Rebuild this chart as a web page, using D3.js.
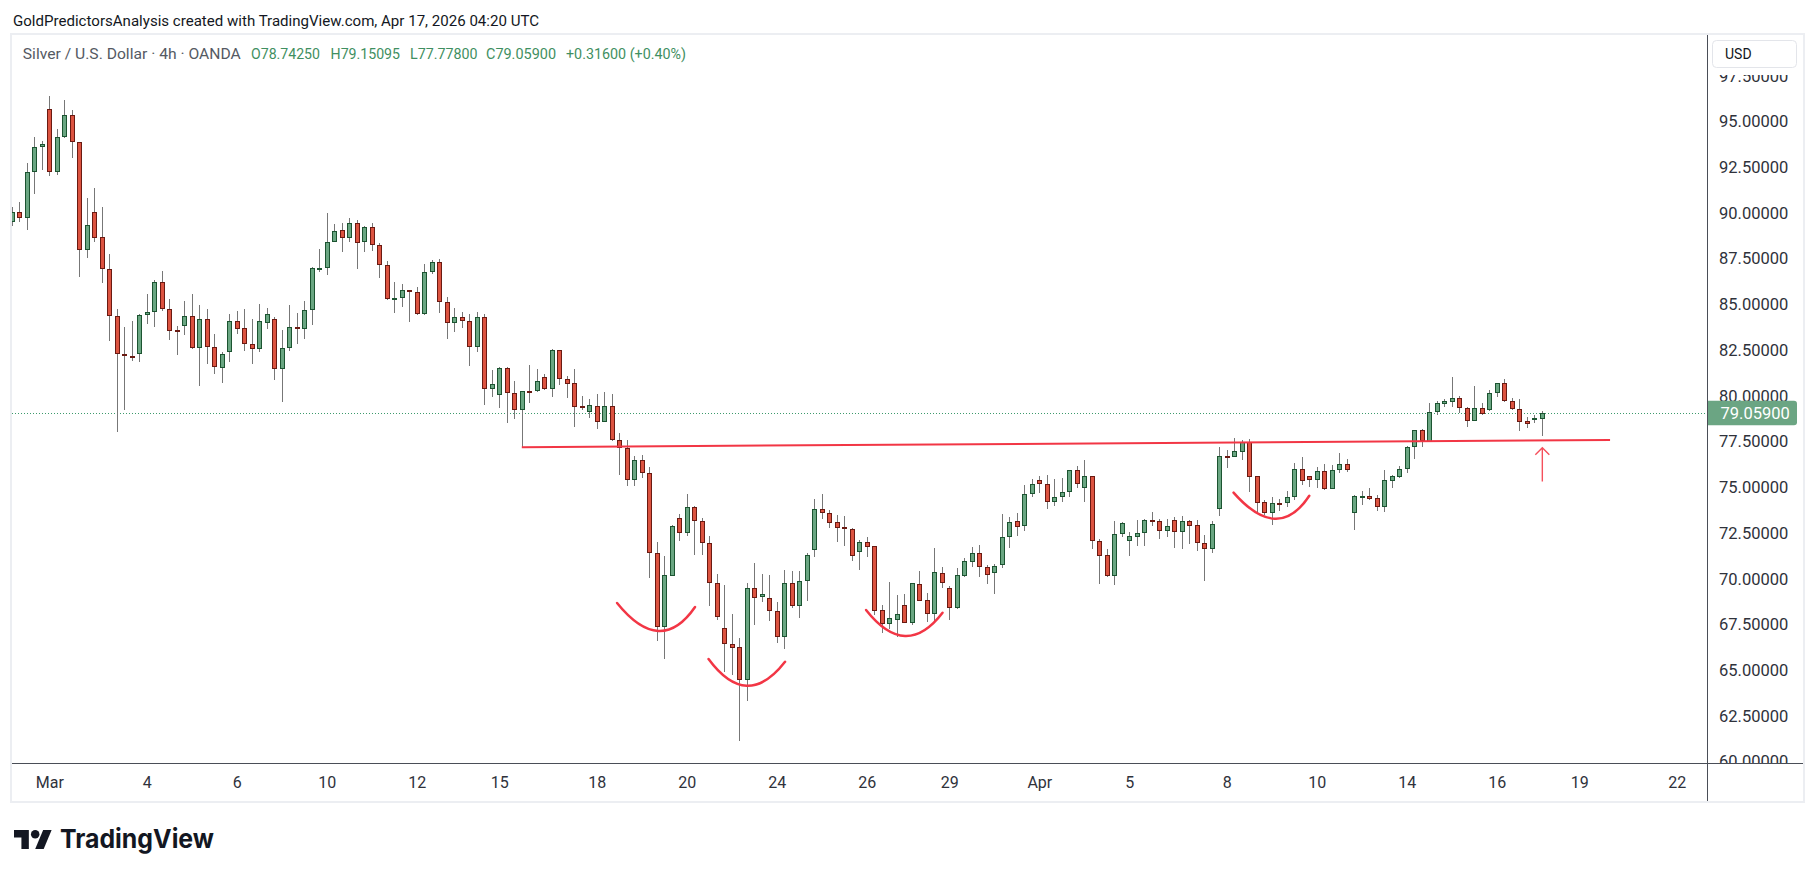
<!DOCTYPE html>
<html><head><meta charset="utf-8">
<script src="https://cdn.jsdelivr.net/npm/d3@7"></script>
<style>body{margin:0;background:#fff;} svg{display:block;}</style>
</head><body>
<svg id="c" width="1815" height="877"></svg>
<script>
// ---------- DATA ----------
const opens = [89.5,90.03,89.71,92.22,93.63,95.67,92.22,94.14,95.34,93.86,
87.96,90.03,88.67,86.92,84.35,82.27,82.20,82.27,84.40,84.57,
86.21,84.73,83.58,83.80,84.35,82.60,84.18,82.65,81.50,82.38,
84.09,83.71,82.82,82.58,84.00,84.20,81.45,82.60,83.76,83.67,
84.68,86.96,86.97,88.39,89.05,88.61,89.43,88.39,89.21,88.23,
87.14,85.33,85.33,85.77,85.66,84.46,86.75,87.30,85.11,84.00,
84.30,84.10,82.69,84.30,80.36,80.03,81.50,80.14,79.21,80.27,
80.25,81.01,80.39,82.49,80.94,80.68,79.43,79.13,79.43,78.59,
79.43,77.57,77.15,75.42,76.47,75.76,71.39,67.38,70.17,73.30,
72.52,73.90,73.14,71.94,69.75,67.29,66.41,66.25,64.45,69.48,
69.02,68.93,68.22,66.80,69.75,68.53,69.86,71.55,73.80,73.58,
73.08,72.81,72.70,71.48,71.99,71.77,68.27,67.51,67.75,68.55,
67.60,69.69,68.82,68.05,70.30,69.48,68.42,70.17,70.93,71.39,
70.62,70.33,70.73,72.26,73.14,72.90,74.61,75.38,75.16,74.21,
74.45,74.72,75.93,74.94,75.60,72.05,71.28,70.17,72.43,72.08,
72.30,72.48,73.19,73.16,72.63,73.19,72.57,73.14,72.92,71.94,
71.61,73.79,76.73,76.68,76.95,77.46,75.60,74.18,73.58,74.13,
74.12,74.45,75.98,75.60,75.40,75.87,74.91,75.93,76.26,73.61,
74.49,74.51,74.40,73.94,75.36,75.58,75.98,77.19,78.11,77.49,
79.10,79.57,79.68,79.86,79.32,78.64,79.32,79.23,80.14,80.68,
79.74,79.26,78.61,78.77,78.7425];
const highs = [90.3,90.62,92.73,94.15,93.93,96.39,94.59,96.17,95.63,93.9,
90.82,91.36,90.33,87.76,84.75,83.77,84.10,84.46,85.57,86.34,
86.83,85.30,83.82,85.19,85.57,84.97,84.75,83.38,82.42,84.46,
84.64,84.75,84.20,85.02,84.80,84.30,83.60,84.97,84.53,85.19,
87.03,88.03,90.00,89.40,89.45,89.72,89.61,89.29,89.45,88.34,
87.35,86.22,86.11,85.80,85.93,87.21,87.41,87.46,85.40,84.80,
84.60,84.50,84.60,84.50,81.41,81.56,81.56,80.81,80.26,81.69,
81.45,81.19,82.56,82.52,81.07,81.47,79.99,79.81,80.08,80.21,
80.08,77.95,77.59,76.71,76.77,76.09,71.99,71.24,72.94,73.54,
74.63,73.99,73.30,72.34,70.24,69.66,68.07,66.74,69.75,70.84,
70.24,70.20,68.71,70.48,70.42,70.42,71.39,74.34,74.63,73.76,
73.48,73.43,72.76,72.12,72.26,71.79,68.56,69.80,69.11,69.15,
69.79,70.42,69.20,71.66,70.62,69.60,70.57,71.12,71.72,71.83,
70.75,70.78,73.54,73.36,73.58,75.13,75.45,75.62,75.67,75.45,
75.51,75.94,76.16,76.49,75.62,72.17,71.63,73.16,73.08,72.54,
73.21,73.27,73.65,73.27,73.27,73.36,73.43,73.21,73.21,72.39,
73.16,77.19,77.04,77.68,77.59,77.64,75.62,74.31,74.49,74.36,
74.82,76.35,76.66,75.62,76.13,76.26,76.20,76.86,76.53,74.58,
74.80,74.94,74.58,75.95,75.65,76.16,77.26,78.14,78.19,79.59,
79.72,79.81,81.05,79.99,79.37,80.54,79.63,80.32,80.72,80.92,
79.90,79.83,78.83,78.95,79.15095];
const lows = [89.3,89.49,89.09,91.02,92.37,92.04,92.10,94.08,93.02,86.52,
87.56,88.43,86.19,83.02,78.04,79.24,81.92,81.87,83.91,83.77,
84.66,83.05,82.23,83.33,82.55,80.56,81.74,81.21,80.72,81.83,
83.38,82.47,81.74,82.42,83.67,80.87,79.68,82.47,82.84,83.11,
83.87,86.79,86.63,88.39,87.85,88.39,86.92,87.85,87.90,86.42,
85.25,84.51,84.84,84.02,84.42,84.40,86.64,84.55,83.09,83.50,
83.70,81.65,82.42,79.50,79.96,79.35,78.53,78.73,77.19,79.59,
80.21,80.32,79.96,80.59,79.88,78.31,79.23,78.81,78.21,78.59,
77.55,75.69,75.09,75.09,75.53,70.06,66.61,65.59,70.17,72.08,
72.34,71.30,71.30,68.53,67.75,64.92,64.74,61.15,63.33,67.47,
68.75,67.71,66.47,66.14,68.38,67.84,68.80,71.21,73.25,72.76,
72.03,71.79,70.99,70.48,71.21,68.00,67.05,67.25,66.83,67.56,
67.47,68.78,67.62,67.69,69.51,67.75,68.35,70.08,70.62,70.11,
69.71,69.15,70.57,71.66,72.34,72.63,74.49,74.71,73.81,73.99,
74.21,74.49,74.98,74.21,71.63,69.71,70.10,69.66,72.30,71.26,
71.81,71.81,72.90,72.15,72.26,71.70,71.65,71.88,71.54,69.89,
71.39,73.45,76.07,76.64,76.49,74.76,73.58,73.49,72.94,73.72,
73.94,74.31,75.13,75.04,74.94,74.85,74.91,75.80,75.86,72.67,
74.03,74.31,73.71,73.67,74.98,75.49,75.80,76.55,77.19,77.49,
78.95,79.37,79.41,79.08,78.32,78.64,78.95,79.17,79.95,79.68,
79.23,78.10,78.26,78.53,77.778];
const closes = [90.07,89.71,92.22,93.59,93.75,92.22,94.14,95.34,93.86,87.96,
89.32,88.65,86.92,84.35,82.27,82.20,82.05,84.40,84.57,86.21,
84.73,83.56,83.56,84.35,82.60,84.18,82.65,81.56,82.27,84.07,
83.67,82.82,82.58,84.09,84.48,81.45,82.60,83.75,83.74,84.68,
86.97,86.98,88.39,88.99,88.61,89.43,88.34,89.21,88.23,87.14,
85.28,85.35,85.77,85.66,84.46,86.75,87.30,85.11,84.00,84.30,
84.10,82.69,84.30,80.36,80.65,81.50,80.14,79.21,80.25,80.23,
80.79,80.39,82.49,80.94,80.67,79.41,79.32,79.48,78.59,79.43,
77.57,77.13,75.42,76.47,75.76,71.39,67.38,70.19,72.87,72.52,
73.90,73.14,71.94,69.75,67.93,66.41,66.23,64.45,69.48,68.93,
69.15,68.26,66.80,69.75,68.53,69.86,71.28,73.80,73.58,73.07,
72.79,72.70,71.26,71.99,71.75,68.22,67.51,67.84,68.05,67.60,
69.75,68.80,68.05,70.35,69.75,68.42,70.19,70.95,71.39,70.62,
70.20,70.72,72.26,73.12,72.85,74.63,75.16,75.16,74.21,74.45,
74.72,75.93,75.16,75.60,72.05,71.26,70.17,72.43,73.03,72.32,
72.48,73.21,73.16,72.63,72.88,72.57,73.16,72.90,71.94,71.61,
72.97,76.71,76.69,76.97,77.46,75.58,74.12,73.58,74.12,74.11,
74.45,75.98,75.33,75.40,75.87,74.91,75.93,76.26,75.95,74.51,
74.51,74.38,73.94,75.38,75.62,75.98,77.19,78.12,77.51,79.10,
79.59,79.70,79.86,79.32,78.64,79.32,78.99,80.14,80.68,79.74,
79.26,78.59,78.44,78.81,79.059];

const priceTicks = d3.range(60, 97.51, 2.5);
const tickLabels = ["Mar","4","6","10","12","15","18","20","24","26","29","Apr","5","8","10","14","16","19","22"];
const tickIndex  = [5,18,30,42,54,65,78,90,102,114,125,137,149,162,174,186,198,209,222];
const lastPrice = 79.059;
const resistance = [[68, 77.19], [213.1, 77.59]];
const arcs = [
  [[80.7,68.67],[86.2,67.14],[91.1,68.45]],
  [[92.9,65.61],[98.0,64.15],[103.1,65.46]],
  [[113.9,68.29],[119.1,66.87],[124.1,68.14]],
  [[162.9,74.71],[168.4,73.28],[173.0,74.54]]
];
const arrowPts = [[204.07, 75.31],[204.07, 77.16]];
const headerText = "GoldPredictorsAnalysis created with TradingView.com, Apr 17, 2026 04:20 UTC";
const symbolText = "Silver / U.S. Dollar · 4h · OANDA";
const ohlcTexts = ["O78.74250","H79.15095","L77.77800","C79.05900","+0.31600 (+0.40%)"];
const currencyText = "USD";
const brandText = "TradingView";

// ---------- LAYOUT ----------
const W = 1815, H = 877;
const paneL = 12, paneT = 35, paneR = 1803, paneB = 801;
const axisX = 1707, axisY = 763;
const svg = d3.select("#c");
const FONT = "Roboto, 'Liberation Sans', sans-serif";
const UP_FILL = "#6aa682", UP_LINE = "#1c5431", DN_FILL = "#dc5340", DN_LINE = "#6a1a12", WICK = "#777";

const x = d3.scaleLinear().domain([0, 204]).range([11.8, 1541.8]);
const y = d3.scaleLinear().domain([60, 97.5]).range([761.6, 75.8]);

svg.append("rect").attr("width", W).attr("height", H).attr("fill", "#fff");
svg.append("rect").attr("x", paneL - 1).attr("y", paneT - 1).attr("width", paneR - paneL + 2).attr("height", paneB - paneT + 2)
  .attr("fill", "none").attr("stroke", "#eceef2").attr("stroke-width", 2);

const defs = svg.append("defs");
defs.append("clipPath").attr("id", "plotClip").append("rect")
  .attr("x", paneL).attr("y", paneT).attr("width", axisX - paneL).attr("height", axisY - paneT);
defs.append("clipPath").attr("id", "priceClip").append("rect")
  .attr("x", axisX).attr("y", 75).attr("width", paneR - axisX).attr("height", axisY - 75);
defs.append("clipPath").attr("id", "timeClip").append("rect")
  .attr("x", paneL).attr("y", axisY).attr("width", axisX - paneL).attr("height", paneB - axisY);

const plot = svg.append("g").attr("clip-path", "url(#plotClip)");

plot.append("line").attr("x1", paneL).attr("x2", axisX)
  .attr("y1", Math.round(y(lastPrice)) + 0.5).attr("y2", Math.round(y(lastPrice)) + 0.5)
  .attr("stroke", "#3d9a6c").attr("stroke-width", 1).attr("stroke-dasharray", "1 2");

const idx = d3.range(opens.length);
const cg = plot.append("g");
cg.selectAll("line.wick").data(idx).join("line").attr("class", "wick")
  .attr("x1", i => Math.round(x(i)) + 0.5).attr("x2", i => Math.round(x(i)) + 0.5)
  .attr("y1", i => Math.round(y(highs[i]))).attr("y2", i => Math.round(y(lows[i])))
  .attr("stroke", WICK).attr("stroke-width", 1);
cg.selectAll("rect.body").data(idx).join("rect").attr("class", "body")
  .attr("x", i => Math.round(x(i)) - 1.5).attr("width", 4)
  .attr("y", i => Math.round(y(Math.max(opens[i], closes[i]))) + 0.5)
  .attr("height", i => Math.max(1, Math.round(y(Math.min(opens[i], closes[i]))) - Math.round(y(Math.max(opens[i], closes[i]))) - 1))
  .attr("fill", i => closes[i] >= opens[i] ? UP_FILL : DN_FILL)
  .attr("stroke", i => closes[i] >= opens[i] ? UP_LINE : DN_LINE)
  .attr("stroke-width", 1);

const RED = "#f23645";
plot.append("line")
  .attr("x1", x(resistance[0][0])).attr("y1", y(resistance[0][1]))
  .attr("x2", x(resistance[1][0])).attr("y2", y(resistance[1][1]))
  .attr("stroke", RED).attr("stroke-width", 2);
arcs.forEach(a => {
  const [s, m, e] = a.map(p => [x(p[0]), y(p[1])]);
  const cx = 2 * m[0] - (s[0] + e[0]) / 2, cy = 2 * m[1] - (s[1] + e[1]) / 2;
  plot.append("path").attr("d", `M${s[0]},${s[1]} Q${cx},${cy} ${e[0]},${e[1]}`)
    .attr("fill", "none").attr("stroke", RED).attr("stroke-width", 2.5).attr("stroke-linecap", "round");
});
{
  const ax = x(arrowPts[0][0]), yb = y(arrowPts[0][1]), yt = y(arrowPts[1][1]);
  plot.append("path").attr("d", `M${ax},${yb} L${ax},${yt} M${ax - 7},${yt + 7} L${ax},${yt} L${ax + 7},${yt + 7}`)
    .attr("fill", "none").attr("stroke", "#f5505c").attr("stroke-width", 1.4);
}

svg.append("line").attr("x1", axisX + 0.5).attr("x2", axisX + 0.5).attr("y1", paneT).attr("y2", paneB)
  .attr("stroke", "#4a4e57").attr("stroke-width", 1);
svg.append("line").attr("x1", paneL).attr("x2", paneR).attr("y1", axisY + 0.5).attr("y2", axisY + 0.5)
  .attr("stroke", "#4a4e57").attr("stroke-width", 1);

const pa = svg.append("g").attr("clip-path", "url(#priceClip)")
  .append("g").attr("transform", `translate(${axisX},0)`)
  .call(d3.axisRight(y).tickValues(priceTicks).tickSize(0).tickPadding(12).tickFormat(d => d.toFixed(5)));
pa.select(".domain").remove();
pa.selectAll("text").attr("font-family", FONT).attr("font-size", 16.5).attr("fill", "#2f323b");

svg.append("rect").attr("x", 1712.5).attr("y", 40.5).attr("width", 84).attr("height", 27).attr("rx", 4)
  .attr("fill", "#fff").attr("stroke", "#e3e5ea");
svg.append("text").attr("x", 1725).attr("y", 54).attr("dy", "0.35em").text(currencyText)
  .attr("font-family", FONT).attr("font-size", 14).attr("fill", "#131722");

{
  const ly = y(lastPrice);
  svg.append("path").attr("d", `M${axisX + 1},${ly - 12.2} H1794 a3,3 0 0 1 3,3 V${ly + 9.2} a3,3 0 0 1 -3,3 H${axisX + 1} Z`)
    .attr("fill", "#6ba583");
  svg.append("text").attr("x", 1720.5).attr("y", ly).attr("dy", "0.36em").text(lastPrice.toFixed(5))
    .attr("font-family", FONT).attr("font-size", 16.5).attr("fill", "#fff");
}

const ta = svg.append("g").attr("clip-path", "url(#timeClip)")
  .append("g").attr("transform", `translate(0,${axisY})`)
  .call(d3.axisBottom(x).tickValues(tickIndex).tickSize(0).tickPadding(14).tickFormat((d, i) => tickLabels[i]));
ta.select(".domain").remove();
ta.selectAll("text").attr("font-family", FONT).attr("font-size", 16).attr("fill", "#2f323b");

svg.append("text").attr("x", 13).attr("y", 25.5).text(headerText)
  .attr("font-family", FONT).attr("font-size", 15).attr("fill", "#131722")
  .attr("textLength", 526).attr("lengthAdjust", "spacingAndGlyphs");
svg.append("text").attr("x", 22.8).attr("y", 58.5).text(symbolText)
  .attr("font-family", FONT).attr("font-size", 15).attr("fill", "#555a63")
  .attr("textLength", 218).attr("lengthAdjust", "spacingAndGlyphs");
const ohlcX = [[251, 69], [330.6, 69.4], [410, 67.5], [486, 70], [566, 120]];
ohlcTexts.forEach((t, i) => {
  svg.append("text").attr("x", ohlcX[i][0]).attr("y", 58.5).text(t)
    .attr("font-family", FONT).attr("font-size", 15).attr("fill", "#3f8f61")
    .attr("textLength", ohlcX[i][1]).attr("lengthAdjust", "spacingAndGlyphs");
});

{
  const g = svg.append("g").attr("transform", "translate(14,825.8) scale(1.06)").attr("fill", "#131722");
  g.append("path").attr("d", "M14 22H7V11H0V4h14v18z");
  g.append("circle").attr("cx", 20).attr("cy", 8).attr("r", 4);
  g.append("path").attr("d", "M28 22h-8l7.5-18h8L28 22z");
  svg.append("text").attr("x", 60).attr("y", 848).text(brandText)
    .attr("font-family", "Inter, Roboto, sans-serif").attr("font-weight", 700).attr("font-size", 26).attr("fill", "#131722")
    .attr("textLength", 154).attr("lengthAdjust", "spacingAndGlyphs");
}
</script>
</body></html>
